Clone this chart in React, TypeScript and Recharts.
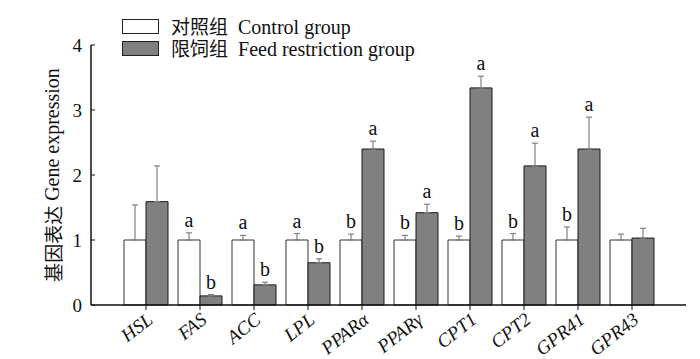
import React from 'react';
import { BarChart, Bar, XAxis, YAxis, ErrorBar, LabelList, Legend } from 'recharts';

const genes = ['HSL', 'FAS', 'ACC', 'LPL', 'PPARα', 'PPARγ', 'CPT1', 'CPT2', 'GPR41', 'GPR43'];
const control = [1, 1, 1, 1, 1, 1, 1, 1, 1, 1];
const controlErr = [0.54, 0.11, 0.07, 0.1, 0.09, 0.07, 0.06, 0.1, 0.2, 0.09];
const feed = [1.59, 0.14, 0.31, 0.65, 2.4, 1.42, 3.34, 2.14, 2.4, 1.03];
const feedErr = [0.55, 0.02, 0.04, 0.06, 0.12, 0.13, 0.18, 0.35, 0.49, 0.15];
const controlSig = ['', 'a', 'a', 'a', 'b', 'b', 'b', 'b', 'b', ''];
const feedSig = ['', 'b', 'b', 'b', 'a', 'a', 'a', 'a', 'a', ''];
const yTicks = [0, 1, 2, 3, 4];

const data = genes.map((g, i) => ({
  gene: g,
  control: control[i],
  controlErr: [0, controlErr[i]],
  controlSig: controlSig[i],
  feed: feed[i],
  feedErr: [0, feedErr[i]],
  feedSig: feedSig[i],
}));

const FONT = "'Liberation Serif', 'Times New Roman', 'Noto Sans CJK SC', serif";
const CJK = "'Noto Sans CJK SC', sans-serif";

const YTick = (props: any) => {
  const { x, y, payload } = props;
  const axisX = x + 8;
  return (
    <g>
      <line x1={axisX} x2={axisX + 4} y1={y} y2={y} stroke="#111" strokeWidth={1} />
      <text x={x - 1} y={y} textAnchor="end" dominantBaseline="central" fontFamily={FONT} fontSize={19} fill="#111">
        {payload.value}
      </text>
    </g>
  );
};

const XTick = (props: any) => {
  const { x, y, payload } = props;
  const ax = x + 8;
  const ay = y + 10;
  return (
    <text
      x={ax}
      y={ay}
      textAnchor="end"
      transform={`rotate(-38 ${ax} ${ay})`}
      fontFamily={FONT}
      fontStyle="italic"
      fontSize={19}
      fill="#111"
    >
      {payload.value}
    </text>
  );
};

const makeSigLabel = (errs: number[], values: number[]) => (props: any) => {
  const { x, y, width, height, value, index } = props;
  if (!value) return null;
  const v = values[index];
  const pxPerUnit = height / v;
  const top = y - errs[index] * pxPerUnit;
  return (
    <text x={x + width / 2} y={top - 6} textAnchor="middle" fontFamily={FONT} fontSize={20} fill="#111">
      {value}
    </text>
  );
};

const legendItems = [
  { label: '对照组', en: 'Control group', fill: '#ffffff' },
  { label: '限饲组', en: 'Feed restriction group', fill: '#808080' },
];

const LegendContent = () => (
  <div style={{ position: 'relative', width: 700, height: 60 }}>
    {legendItems.map((it, i) => (
      <div key={i} style={{ position: 'absolute', left: 122, top: 16 + i * 22, height: 21, display: 'flex', alignItems: 'center' }}>
        <div style={{ width: 35, height: 13, background: it.fill, border: '1px solid #222' }} />
        <span style={{ marginLeft: 12, fontFamily: FONT, fontSize: 20, color: '#111', whiteSpace: 'pre', lineHeight: '21px' }}>
          <span style={{ fontFamily: CJK, fontSize: 19 }}>{it.label}</span>
          {'  ' + it.en}
        </span>
      </div>
    ))}
  </div>
);

const YLabel = (props: any) => {
  const { viewBox } = props;
  const cx = viewBox.x + 21;
  const cy = viewBox.y + viewBox.height / 2;
  return (
    <text
      x={cx}
      y={cy}
      textAnchor="middle"
      dominantBaseline="central"
      transform={`rotate(-90 ${cx} ${cy})`}
      fontFamily={FONT}
      fontSize={20}
      fill="#111"
    >
      <tspan fontFamily={CJK} fontSize={19}>基因表达</tspan>
      <tspan>{'  Gene expression'}</tspan>
    </text>
  );
};

export default function App() {
  return (
    <div style={{ position: 'absolute', left: 0, top: 0, width: 700, height: 359, background: '#fff' }}>
      <BarChart
        width={700}
        height={359}
        data={data}
        margin={{ top: 45, right: 14, bottom: 0, left: 31 }}
        barCategoryGap={5}
        barGap={0}
      >
        <Legend
          layout="vertical"
          align="center"
          verticalAlign="middle"
          wrapperStyle={{ left: 0, top: 0, width: 700, height: 60 }}
          content={<LegendContent />}
        />
        <XAxis
          dataKey="gene"
          interval={0}
          height={54}
          padding={{ left: 28, right: 27 }}
          axisLine={{ stroke: '#111', strokeWidth: 1.5 }}
          tickLine={{ stroke: '#111' }}
          tickSize={5}
          tick={<XTick />}
        />
        <YAxis
          width={60}
          domain={[0, 4]}
          ticks={yTicks}
          tickSize={0}
          tickMargin={8}
          tickLine={false}
          axisLine={{ stroke: '#111', strokeWidth: 1.5 }}
          tick={<YTick />}
          label={<YLabel />}
        />
        <Bar dataKey="control" fill="#ffffff" stroke="#333" strokeWidth={1} isAnimationActive={false}>
          <ErrorBar dataKey="controlErr" width={3} stroke="#808080" strokeWidth={1.2} />
          <LabelList dataKey="controlSig" content={makeSigLabel(controlErr, control)} />
        </Bar>
        <Bar dataKey="feed" fill="#808080" stroke="#1a1a1a" strokeWidth={1} isAnimationActive={false}>
          <ErrorBar dataKey="feedErr" width={3} stroke="#808080" strokeWidth={1.2} />
          <LabelList dataKey="feedSig" content={makeSigLabel(feedErr, feed)} />
        </Bar>
      </BarChart>
    </div>
  );
}
